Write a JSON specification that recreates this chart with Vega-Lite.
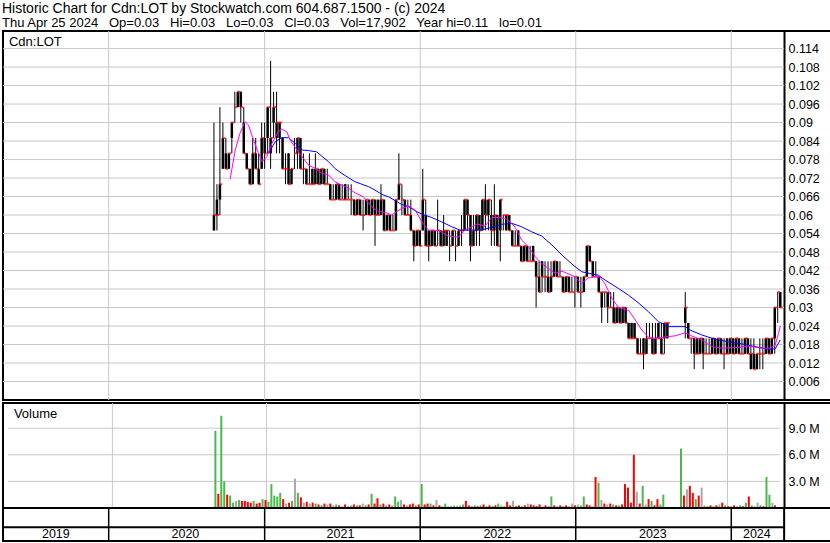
{
  "$schema": "https://vega.github.io/schema/vega-lite/v6.json",
  "background": "white",
  "padding": {"left": 1, "top": 1, "right": 0, "bottom": 0},
  "title": {
    "text": "Historic Chart for Cdn:LOT by Stockwatch.com 604.687.1500 - (c) 2024",
    "subtitle": "Thu Apr 25 2024\u00a0\u00a0 Op=0.03\u00a0\u00a0 Hi=0.03\u00a0\u00a0 Lo=0.03\u00a0\u00a0 Cl=0.03\u00a0\u00a0 Vol=17,902\u00a0\u00a0 Year hi=0.11\u00a0\u00a0 lo=0.01",
    "anchor": "start",
    "frame": "bounds",
    "font": "Liberation Sans",
    "fontSize": 14,
    "fontWeight": "normal",
    "color": "#000000",
    "subtitleFont": "Liberation Sans",
    "subtitleFontSize": 13,
    "subtitleColor": "#000000",
    "subtitlePadding": 1,
    "offset": 0,
    "dx": 1
  },
  "config": {
    "view": {"stroke": "#000000", "strokeWidth": 2},
    "font": "Liberation Sans",
    "axis": {"labelOverlap": false, "labelBound": false}
  },
  "datasets": {
    "weekly": [
      {"date":"2020-09-04","open":0.055,"high":0.09,"low":0.055,"close":0.06,"volume":8.7,"move":"up"},
      {"date":"2020-09-11","open":0.065,"high":0.07,"low":0.055,"close":0.06,"volume":1.6,"move":"down"},
      {"date":"2020-09-18","open":0.065,"high":0.095,"low":0.06,"close":0.07,"volume":10.4,"move":"up"},
      {"date":"2020-09-25","open":0.075,"high":0.09,"low":0.075,"close":0.085,"volume":3.0,"move":"up"},
      {"date":"2020-10-02","open":0.08,"high":0.085,"low":0.075,"close":0.075,"volume":1.5,"move":"down"},
      {"date":"2020-10-09","open":0.075,"high":0.08,"low":0.075,"close":0.08,"volume":1.4,"move":"up"},
      {"date":"2020-10-16","open":0.085,"high":0.09,"low":0.08,"close":0.09,"volume":0.6,"move":"up"},
      {"date":"2020-10-23","open":0.095,"high":0.1,"low":0.09,"close":0.095,"volume":0.8,"move":"flat"},
      {"date":"2020-10-30","open":0.095,"high":0.1,"low":0.095,"close":0.1,"volume":0.9,"move":"up"},
      {"date":"2020-11-06","open":0.1,"high":0.1,"low":0.09,"close":0.095,"volume":0.8,"move":"down"},
      {"date":"2020-11-13","open":0.09,"high":0.095,"low":0.08,"close":0.08,"volume":0.8,"move":"down"},
      {"date":"2020-11-20","open":0.08,"high":0.08,"low":0.075,"close":0.075,"volume":0.7,"move":"down"},
      {"date":"2020-11-27","open":0.075,"high":0.075,"low":0.07,"close":0.07,"volume":0.6,"move":"down"},
      {"date":"2020-12-04","open":0.07,"high":0.085,"low":0.07,"close":0.08,"volume":0.8,"move":"up"},
      {"date":"2020-12-11","open":0.08,"high":0.085,"low":0.075,"close":0.075,"volume":0.5,"move":"down"},
      {"date":"2020-12-18","open":0.075,"high":0.08,"low":0.07,"close":0.07,"volume":0.6,"move":"down"},
      {"date":"2020-12-25","open":0.075,"high":0.09,"low":0.075,"close":0.085,"volume":1.0,"move":"up"},
      {"date":"2021-01-01","open":0.085,"high":0.09,"low":0.075,"close":0.08,"volume":0.9,"move":"down"},
      {"date":"2021-01-08","open":0.085,"high":0.095,"low":0.08,"close":0.095,"volume":0.7,"move":"up"},
      {"date":"2021-01-15","open":0.08,"high":0.11,"low":0.075,"close":0.085,"volume":2.7,"move":"up"},
      {"date":"2021-01-22","open":0.09,"high":0.1,"low":0.085,"close":0.095,"volume":1.4,"move":"up"},
      {"date":"2021-01-29","open":0.085,"high":0.1,"low":0.08,"close":0.09,"volume":1.3,"move":"up"},
      {"date":"2021-02-05","open":0.085,"high":0.09,"low":0.08,"close":0.09,"volume":1.7,"move":"up"},
      {"date":"2021-02-12","open":0.085,"high":0.085,"low":0.075,"close":0.075,"volume":1.0,"move":"down"},
      {"date":"2021-02-19","open":0.075,"high":0.08,"low":0.07,"close":0.075,"volume":0.5,"move":"flat"},
      {"date":"2021-02-26","open":0.08,"high":0.08,"low":0.07,"close":0.07,"volume":0.6,"move":"down"},
      {"date":"2021-03-05","open":0.07,"high":0.075,"low":0.07,"close":0.075,"volume":0.8,"move":"up"},
      {"date":"2021-03-12","open":0.08,"high":0.085,"low":0.075,"close":0.08,"volume":3.3,"move":"flat"},
      {"date":"2021-03-19","open":0.08,"high":0.085,"low":0.075,"close":0.085,"volume":1.7,"move":"up"},
      {"date":"2021-03-26","open":0.085,"high":0.085,"low":0.075,"close":0.075,"volume":1.2,"move":"down"},
      {"date":"2021-04-02","open":0.075,"high":0.08,"low":0.07,"close":0.075,"volume":0.6,"move":"flat"},
      {"date":"2021-04-09","open":0.075,"high":0.075,"low":0.07,"close":0.07,"volume":0.7,"move":"down"},
      {"date":"2021-04-16","open":0.07,"high":0.08,"low":0.07,"close":0.07,"volume":0.5,"move":"flat"},
      {"date":"2021-04-23","open":0.075,"high":0.075,"low":0.07,"close":0.07,"volume":0.6,"move":"down"},
      {"date":"2021-04-30","open":0.07,"high":0.08,"low":0.07,"close":0.075,"volume":0.5,"move":"up"},
      {"date":"2021-05-07","open":0.075,"high":0.075,"low":0.07,"close":0.07,"volume":0.4,"move":"down"},
      {"date":"2021-05-14","open":0.07,"high":0.075,"low":0.07,"close":0.075,"volume":0.3,"move":"up"},
      {"date":"2021-05-21","open":0.075,"high":0.075,"low":0.07,"close":0.07,"volume":0.5,"move":"down"},
      {"date":"2021-05-28","open":0.07,"high":0.075,"low":0.07,"close":0.07,"volume":0.4,"move":"flat"},
      {"date":"2021-06-04","open":0.07,"high":0.07,"low":0.065,"close":0.065,"volume":0.5,"move":"down"},
      {"date":"2021-06-11","open":0.065,"high":0.07,"low":0.065,"close":0.065,"volume":0.3,"move":"flat"},
      {"date":"2021-06-18","open":0.065,"high":0.07,"low":0.065,"close":0.07,"volume":0.4,"move":"up"},
      {"date":"2021-06-25","open":0.07,"high":0.07,"low":0.065,"close":0.065,"volume":0.3,"move":"down"},
      {"date":"2021-07-02","open":0.065,"high":0.07,"low":0.065,"close":0.065,"volume":0.2,"move":"flat"},
      {"date":"2021-07-09","open":0.07,"high":0.07,"low":0.065,"close":0.065,"volume":0.4,"move":"down"},
      {"date":"2021-07-16","open":0.065,"high":0.07,"low":0.065,"close":0.065,"volume":0.2,"move":"flat"},
      {"date":"2021-07-23","open":0.065,"high":0.07,"low":0.06,"close":0.065,"volume":0.3,"move":"flat"},
      {"date":"2021-07-30","open":0.065,"high":0.065,"low":0.06,"close":0.06,"volume":0.4,"move":"down"},
      {"date":"2021-08-06","open":0.06,"high":0.065,"low":0.06,"close":0.065,"volume":0.3,"move":"up"},
      {"date":"2021-08-13","open":0.065,"high":0.065,"low":0.06,"close":0.06,"volume":0.3,"move":"down"},
      {"date":"2021-08-20","open":0.06,"high":0.065,"low":0.055,"close":0.06,"volume":0.5,"move":"flat"},
      {"date":"2021-08-27","open":0.06,"high":0.065,"low":0.06,"close":0.065,"volume":0.3,"move":"up"},
      {"date":"2021-09-03","open":0.065,"high":0.065,"low":0.06,"close":0.06,"volume":0.4,"move":"down"},
      {"date":"2021-09-10","open":0.06,"high":0.065,"low":0.06,"close":0.065,"volume":1.6,"move":"up"},
      {"date":"2021-09-17","open":0.065,"high":0.065,"low":0.05,"close":0.06,"volume":0.5,"move":"down"},
      {"date":"2021-09-24","open":0.065,"high":0.065,"low":0.06,"close":0.06,"volume":1.1,"move":"down"},
      {"date":"2021-10-01","open":0.06,"high":0.07,"low":0.06,"close":0.065,"volume":0.4,"move":"up"},
      {"date":"2021-10-08","open":0.065,"high":0.065,"low":0.055,"close":0.055,"volume":0.5,"move":"down"},
      {"date":"2021-10-15","open":0.055,"high":0.06,"low":0.055,"close":0.06,"volume":0.3,"move":"up"},
      {"date":"2021-10-22","open":0.06,"high":0.06,"low":0.055,"close":0.055,"volume":0.4,"move":"down"},
      {"date":"2021-10-29","open":0.055,"high":0.06,"low":0.055,"close":0.055,"volume":0.3,"move":"flat"},
      {"date":"2021-11-05","open":0.055,"high":0.065,"low":0.055,"close":0.065,"volume":1.3,"move":"up"},
      {"date":"2021-11-12","open":0.065,"high":0.08,"low":0.065,"close":0.07,"volume":0.7,"move":"up"},
      {"date":"2021-11-19","open":0.065,"high":0.07,"low":0.06,"close":0.065,"volume":0.9,"move":"flat"},
      {"date":"2021-11-26","open":0.065,"high":0.065,"low":0.06,"close":0.06,"volume":0.4,"move":"down"},
      {"date":"2021-12-03","open":0.06,"high":0.065,"low":0.06,"close":0.06,"volume":0.3,"move":"flat"},
      {"date":"2021-12-10","open":0.06,"high":0.065,"low":0.055,"close":0.055,"volume":0.4,"move":"down"},
      {"date":"2021-12-17","open":0.055,"high":0.055,"low":0.045,"close":0.05,"volume":0.5,"move":"down"},
      {"date":"2021-12-24","open":0.05,"high":0.055,"low":0.05,"close":0.055,"volume":0.3,"move":"up"},
      {"date":"2021-12-31","open":0.055,"high":0.055,"low":0.05,"close":0.05,"volume":0.4,"move":"down"},
      {"date":"2022-01-07","open":0.055,"high":0.075,"low":0.055,"close":0.065,"volume":2.7,"move":"up"},
      {"date":"2022-01-14","open":0.06,"high":0.065,"low":0.05,"close":0.05,"volume":0.4,"move":"down"},
      {"date":"2022-01-21","open":0.055,"high":0.055,"low":0.045,"close":0.05,"volume":0.5,"move":"down"},
      {"date":"2022-01-28","open":0.05,"high":0.055,"low":0.05,"close":0.055,"volume":0.5,"move":"up"},
      {"date":"2022-02-04","open":0.055,"high":0.055,"low":0.05,"close":0.05,"volume":0.3,"move":"down"},
      {"date":"2022-02-11","open":0.055,"high":0.065,"low":0.05,"close":0.055,"volume":0.9,"move":"flat"},
      {"date":"2022-02-18","open":0.055,"high":0.055,"low":0.05,"close":0.05,"volume":0.3,"move":"down"},
      {"date":"2022-02-25","open":0.05,"high":0.06,"low":0.05,"close":0.055,"volume":0.2,"move":"up"},
      {"date":"2022-03-04","open":0.05,"high":0.055,"low":0.05,"close":0.055,"volume":0.5,"move":"up"},
      {"date":"2022-03-11","open":0.05,"high":0.055,"low":0.045,"close":0.05,"volume":0.2,"move":"flat"},
      {"date":"2022-03-18","open":0.05,"high":0.055,"low":0.05,"close":0.055,"volume":0.2,"move":"up"},
      {"date":"2022-03-25","open":0.05,"high":0.055,"low":0.045,"close":0.05,"volume":0.3,"move":"flat"},
      {"date":"2022-04-01","open":0.05,"high":0.055,"low":0.05,"close":0.055,"volume":0.2,"move":"up"},
      {"date":"2022-04-08","open":0.055,"high":0.06,"low":0.05,"close":0.055,"volume":0.3,"move":"flat"},
      {"date":"2022-04-15","open":0.055,"high":0.065,"low":0.055,"close":0.065,"volume":0.4,"move":"up"},
      {"date":"2022-04-22","open":0.065,"high":0.065,"low":0.055,"close":0.06,"volume":0.8,"move":"down"},
      {"date":"2022-04-29","open":0.06,"high":0.06,"low":0.045,"close":0.05,"volume":0.3,"move":"down"},
      {"date":"2022-05-06","open":0.05,"high":0.06,"low":0.05,"close":0.055,"volume":0.2,"move":"up"},
      {"date":"2022-05-13","open":0.055,"high":0.06,"low":0.05,"close":0.06,"volume":0.3,"move":"up"},
      {"date":"2022-05-20","open":0.06,"high":0.06,"low":0.05,"close":0.055,"volume":0.2,"move":"down"},
      {"date":"2022-05-27","open":0.055,"high":0.065,"low":0.055,"close":0.065,"volume":0.3,"move":"up"},
      {"date":"2022-06-03","open":0.065,"high":0.07,"low":0.055,"close":0.06,"volume":0.4,"move":"down"},
      {"date":"2022-06-10","open":0.06,"high":0.065,"low":0.055,"close":0.065,"volume":0.2,"move":"up"},
      {"date":"2022-06-17","open":0.06,"high":0.065,"low":0.05,"close":0.055,"volume":0.3,"move":"down"},
      {"date":"2022-06-24","open":0.055,"high":0.07,"low":0.05,"close":0.06,"volume":0.2,"move":"up"},
      {"date":"2022-07-01","open":0.06,"high":0.06,"low":0.05,"close":0.05,"volume":0.3,"move":"down"},
      {"date":"2022-07-08","open":0.055,"high":0.065,"low":0.045,"close":0.065,"volume":0.5,"move":"up"},
      {"date":"2022-07-15","open":0.06,"high":0.06,"low":0.055,"close":0.06,"volume":0.3,"move":"flat"},
      {"date":"2022-07-22","open":0.055,"high":0.06,"low":0.055,"close":0.06,"volume":0.2,"move":"up"},
      {"date":"2022-07-29","open":0.06,"high":0.06,"low":0.055,"close":0.055,"volume":0.7,"move":"down"},
      {"date":"2022-08-05","open":0.055,"high":0.055,"low":0.05,"close":0.05,"volume":0.3,"move":"down"},
      {"date":"2022-08-12","open":0.05,"high":0.055,"low":0.05,"close":0.05,"volume":0.8,"move":"flat"},
      {"date":"2022-08-19","open":0.055,"high":0.055,"low":0.05,"close":0.05,"volume":0.2,"move":"down"},
      {"date":"2022-08-26","open":0.05,"high":0.05,"low":0.045,"close":0.045,"volume":0.3,"move":"down"},
      {"date":"2022-09-02","open":0.045,"high":0.05,"low":0.045,"close":0.05,"volume":0.2,"move":"up"},
      {"date":"2022-09-09","open":0.05,"high":0.05,"low":0.045,"close":0.045,"volume":0.3,"move":"down"},
      {"date":"2022-09-16","open":0.045,"high":0.05,"low":0.045,"close":0.045,"volume":0.5,"move":"flat"},
      {"date":"2022-09-23","open":0.05,"high":0.05,"low":0.045,"close":0.045,"volume":0.4,"move":"down"},
      {"date":"2022-09-30","open":0.045,"high":0.045,"low":0.03,"close":0.04,"volume":0.3,"move":"down"},
      {"date":"2022-10-07","open":0.04,"high":0.045,"low":0.035,"close":0.035,"volume":0.2,"move":"down"},
      {"date":"2022-10-14","open":0.045,"high":0.045,"low":0.035,"close":0.04,"volume":0.4,"move":"down"},
      {"date":"2022-10-21","open":0.04,"high":0.045,"low":0.035,"close":0.04,"volume":0.2,"move":"flat"},
      {"date":"2022-10-28","open":0.04,"high":0.045,"low":0.035,"close":0.035,"volume":0.3,"move":"down"},
      {"date":"2022-11-04","open":0.035,"high":0.045,"low":0.035,"close":0.04,"volume":0.2,"move":"up"},
      {"date":"2022-11-11","open":0.04,"high":0.045,"low":0.04,"close":0.045,"volume":1.3,"move":"up"},
      {"date":"2022-11-18","open":0.045,"high":0.045,"low":0.04,"close":0.04,"volume":0.3,"move":"down"},
      {"date":"2022-11-25","open":0.04,"high":0.045,"low":0.04,"close":0.04,"volume":0.2,"move":"flat"},
      {"date":"2022-12-02","open":0.04,"high":0.04,"low":0.035,"close":0.035,"volume":0.3,"move":"down"},
      {"date":"2022-12-09","open":0.035,"high":0.04,"low":0.035,"close":0.04,"volume":0.2,"move":"up"},
      {"date":"2022-12-16","open":0.04,"high":0.04,"low":0.035,"close":0.035,"volume":0.3,"move":"down"},
      {"date":"2022-12-23","open":0.035,"high":0.04,"low":0.035,"close":0.035,"volume":0.2,"move":"flat"},
      {"date":"2022-12-30","open":0.04,"high":0.04,"low":0.03,"close":0.04,"volume":0.5,"move":"flat"},
      {"date":"2023-01-06","open":0.04,"high":0.04,"low":0.035,"close":0.035,"volume":0.3,"move":"down"},
      {"date":"2023-01-13","open":0.035,"high":0.04,"low":0.03,"close":0.035,"volume":0.4,"move":"flat"},
      {"date":"2023-01-20","open":0.035,"high":0.04,"low":0.035,"close":0.04,"volume":0.3,"move":"up"},
      {"date":"2023-01-27","open":0.04,"high":0.05,"low":0.04,"close":0.05,"volume":1.3,"move":"up"},
      {"date":"2023-02-03","open":0.05,"high":0.05,"low":0.045,"close":0.045,"volume":0.4,"move":"down"},
      {"date":"2023-02-10","open":0.045,"high":0.045,"low":0.04,"close":0.04,"volume":0.3,"move":"down"},
      {"date":"2023-02-17","open":0.04,"high":0.045,"low":0.04,"close":0.04,"volume":0.2,"move":"flat"},
      {"date":"2023-02-24","open":0.04,"high":0.04,"low":0.035,"close":0.035,"volume":3.5,"move":"down"},
      {"date":"2023-03-03","open":0.03,"high":0.035,"low":0.025,"close":0.035,"volume":2.85,"move":"up"},
      {"date":"2023-03-10","open":0.035,"high":0.035,"low":0.03,"close":0.035,"volume":0.9,"move":"flat"},
      {"date":"2023-03-17","open":0.035,"high":0.035,"low":0.025,"close":0.03,"volume":0.5,"move":"down"},
      {"date":"2023-03-24","open":0.03,"high":0.035,"low":0.03,"close":0.03,"volume":0.4,"move":"flat"},
      {"date":"2023-03-31","open":0.03,"high":0.035,"low":0.025,"close":0.025,"volume":0.5,"move":"down"},
      {"date":"2023-04-07","open":0.025,"high":0.03,"low":0.025,"close":0.03,"volume":0.4,"move":"up"},
      {"date":"2023-04-14","open":0.03,"high":0.03,"low":0.025,"close":0.025,"volume":0.3,"move":"down"},
      {"date":"2023-04-21","open":0.025,"high":0.03,"low":0.025,"close":0.03,"volume":0.3,"move":"up"},
      {"date":"2023-04-28","open":0.03,"high":0.03,"low":0.025,"close":0.025,"volume":0.4,"move":"down"},
      {"date":"2023-05-05","open":0.025,"high":0.025,"low":0.02,"close":0.02,"volume":2.7,"move":"down"},
      {"date":"2023-05-12","open":0.025,"high":0.025,"low":0.02,"close":0.02,"volume":2.3,"move":"down"},
      {"date":"2023-05-19","open":0.025,"high":0.025,"low":0.02,"close":0.02,"volume":0.6,"move":"down"},
      {"date":"2023-05-26","open":0.02,"high":0.02,"low":0.015,"close":0.015,"volume":6.0,"move":"down"},
      {"date":"2023-06-02","open":0.015,"high":0.02,"low":0.015,"close":0.015,"volume":1.85,"move":"flat"},
      {"date":"2023-06-09","open":0.02,"high":0.02,"low":0.01,"close":0.015,"volume":0.5,"move":"down"},
      {"date":"2023-06-16","open":0.015,"high":0.025,"low":0.015,"close":0.02,"volume":2.5,"move":"up"},
      {"date":"2023-06-23","open":0.02,"high":0.025,"low":0.02,"close":0.02,"volume":0.4,"move":"flat"},
      {"date":"2023-06-30","open":0.02,"high":0.025,"low":0.015,"close":0.015,"volume":1.0,"move":"down"},
      {"date":"2023-07-07","open":0.015,"high":0.025,"low":0.015,"close":0.02,"volume":0.8,"move":"up"},
      {"date":"2023-07-14","open":0.025,"high":0.025,"low":0.02,"close":0.02,"volume":0.3,"move":"down"},
      {"date":"2023-07-21","open":0.02,"high":0.025,"low":0.015,"close":0.015,"volume":1.0,"move":"down"},
      {"date":"2023-07-28","open":0.02,"high":0.025,"low":0.015,"close":0.025,"volume":0.4,"move":"up"},
      {"date":"2023-08-04","open":0.02,"high":0.025,"low":0.02,"close":0.025,"volume":1.5,"move":"up"},
      {"date":"2023-09-15","open":0.025,"high":0.035,"low":0.02,"close":0.03,"volume":6.7,"move":"up"},
      {"date":"2023-09-22","open":0.025,"high":0.025,"low":0.02,"close":0.02,"volume":1.4,"move":"down"},
      {"date":"2023-09-29","open":0.02,"high":0.02,"low":0.015,"close":0.02,"volume":2.1,"move":"flat"},
      {"date":"2023-10-06","open":0.02,"high":0.02,"low":0.01,"close":0.015,"volume":2.5,"move":"down"},
      {"date":"2023-10-13","open":0.02,"high":0.02,"low":0.015,"close":0.015,"volume":1.7,"move":"down"},
      {"date":"2023-10-20","open":0.015,"high":0.02,"low":0.015,"close":0.02,"volume":1.0,"move":"up"},
      {"date":"2023-10-27","open":0.02,"high":0.02,"low":0.01,"close":0.015,"volume":1.4,"move":"down"},
      {"date":"2023-11-03","open":0.015,"high":0.02,"low":0.015,"close":0.015,"volume":2.3,"move":"flat"},
      {"date":"2023-11-10","open":0.015,"high":0.02,"low":0.015,"close":0.015,"volume":0.3,"move":"flat"},
      {"date":"2023-11-17","open":0.015,"high":0.02,"low":0.015,"close":0.02,"volume":0.2,"move":"up"},
      {"date":"2023-11-24","open":0.02,"high":0.02,"low":0.015,"close":0.015,"volume":0.3,"move":"down"},
      {"date":"2023-12-01","open":0.015,"high":0.02,"low":0.015,"close":0.02,"volume":0.2,"move":"up"},
      {"date":"2023-12-08","open":0.02,"high":0.02,"low":0.015,"close":0.015,"volume":0.3,"move":"down"},
      {"date":"2023-12-15","open":0.015,"high":0.02,"low":0.01,"close":0.015,"volume":0.4,"move":"flat"},
      {"date":"2023-12-22","open":0.02,"high":0.02,"low":0.015,"close":0.015,"volume":0.6,"move":"down"},
      {"date":"2023-12-29","open":0.015,"high":0.02,"low":0.015,"close":0.02,"volume":0.3,"move":"up"},
      {"date":"2024-01-05","open":0.02,"high":0.02,"low":0.015,"close":0.015,"volume":0.2,"move":"down"},
      {"date":"2024-01-12","open":0.015,"high":0.02,"low":0.015,"close":0.02,"volume":0.2,"move":"up"},
      {"date":"2024-01-19","open":0.02,"high":0.02,"low":0.015,"close":0.015,"volume":0.3,"move":"down"},
      {"date":"2024-01-26","open":0.015,"high":0.02,"low":0.015,"close":0.015,"volume":0.2,"move":"flat"},
      {"date":"2024-02-02","open":0.015,"high":0.02,"low":0.015,"close":0.02,"volume":0.3,"move":"up"},
      {"date":"2024-02-09","open":0.02,"high":0.02,"low":0.015,"close":0.015,"volume":0.2,"move":"down"},
      {"date":"2024-02-16","open":0.01,"high":0.02,"low":0.01,"close":0.015,"volume":0.6,"move":"up"},
      {"date":"2024-02-23","open":0.015,"high":0.02,"low":0.01,"close":0.01,"volume":1.3,"move":"down"},
      {"date":"2024-03-01","open":0.01,"high":0.015,"low":0.01,"close":0.015,"volume":0.3,"move":"up"},
      {"date":"2024-03-08","open":0.015,"high":0.02,"low":0.01,"close":0.015,"volume":0.2,"move":"flat"},
      {"date":"2024-03-15","open":0.015,"high":0.02,"low":0.01,"close":0.015,"volume":0.6,"move":"flat"},
      {"date":"2024-03-22","open":0.015,"high":0.02,"low":0.015,"close":0.02,"volume":0.3,"move":"up"},
      {"date":"2024-03-29","open":0.02,"high":0.02,"low":0.015,"close":0.015,"volume":0.2,"move":"down"},
      {"date":"2024-04-05","open":0.015,"high":0.02,"low":0.015,"close":0.02,"volume":3.5,"move":"up"},
      {"date":"2024-04-12","open":0.02,"high":0.03,"low":0.015,"close":0.03,"volume":1.5,"move":"up"},
      {"date":"2024-04-19","open":0.035,"high":0.035,"low":0.025,"close":0.035,"volume":0.6,"move":"flat"},
      {"date":"2024-04-25","open":0.035,"high":0.035,"low":0.03,"close":0.03,"volume":0.3,"move":"down"}
    ],
    "maFast": [
      {"date":"2020-10-12","ma":0.0716},{"date":"2020-10-24","ma":0.0811},{"date":"2020-11-04","ma":0.0865},
      {"date":"2020-11-16","ma":0.0903},{"date":"2020-11-24","ma":0.0892},{"date":"2020-12-06","ma":0.0843},
      {"date":"2020-12-18","ma":0.08},{"date":"2020-12-26","ma":0.0773},{"date":"2021-01-06","ma":0.0789},
      {"date":"2021-01-18","ma":0.0832},{"date":"2021-02-02","ma":0.087},{"date":"2021-02-10","ma":0.0879},
      {"date":"2021-02-22","ma":0.087},{"date":"2021-03-02","ma":0.0843},{"date":"2021-03-18","ma":0.0811},
      {"date":"2021-03-30","ma":0.0789},{"date":"2021-04-14","ma":0.0762},{"date":"2021-04-30","ma":0.0751},
      {"date":"2021-05-15","ma":0.0735},{"date":"2021-05-31","ma":0.073},{"date":"2021-06-15","ma":0.0708},
      {"date":"2021-07-01","ma":0.0697},{"date":"2021-07-17","ma":0.0687},{"date":"2021-08-01","ma":0.0672},
      {"date":"2021-08-21","ma":0.0659},{"date":"2021-09-09","ma":0.0627},{"date":"2021-09-25","ma":0.0611},
      {"date":"2021-10-11","ma":0.0609},{"date":"2021-10-26","ma":0.06},{"date":"2021-11-07","ma":0.0611},
      {"date":"2021-11-19","ma":0.0622},{"date":"2021-12-05","ma":0.0629},{"date":"2021-12-20","ma":0.0616},
      {"date":"2022-01-05","ma":0.0578},{"date":"2022-01-20","ma":0.0551},{"date":"2022-02-13","ma":0.055},
      {"date":"2022-03-08","ma":0.0532},{"date":"2022-04-01","ma":0.0528},{"date":"2022-04-16","ma":0.0551},
      {"date":"2022-05-02","ma":0.0562},{"date":"2022-05-14","ma":0.0571},{"date":"2022-06-02","ma":0.0564},
      {"date":"2022-06-18","ma":0.0592},{"date":"2022-07-04","ma":0.0592},{"date":"2022-07-20","ma":0.0589},
      {"date":"2022-07-31","ma":0.0578},{"date":"2022-08-12","ma":0.056},{"date":"2022-08-27","ma":0.0519},
      {"date":"2022-09-12","ma":0.0497},{"date":"2022-09-28","ma":0.0465},{"date":"2022-10-13","ma":0.0443},
      {"date":"2022-10-29","ma":0.0427},{"date":"2022-11-14","ma":0.0411},{"date":"2022-11-30","ma":0.0418},
      {"date":"2022-12-30","ma":0.04},{"date":"2023-01-15","ma":0.0378},{"date":"2023-01-29","ma":0.0395},
      {"date":"2023-02-15","ma":0.04},{"date":"2023-02-26","ma":0.04},{"date":"2023-03-11","ma":0.0376},
      {"date":"2023-03-27","ma":0.033},{"date":"2023-04-11","ma":0.03},{"date":"2023-04-24","ma":0.0295},
      {"date":"2023-05-06","ma":0.029},{"date":"2023-05-21","ma":0.0259},{"date":"2023-06-05","ma":0.0227},
      {"date":"2023-06-21","ma":0.0203},{"date":"2023-07-06","ma":0.02},{"date":"2023-07-30","ma":0.0205},
      {"date":"2023-08-22","ma":0.0208},{"date":"2023-09-15","ma":0.0218},{"date":"2023-09-30","ma":0.0208},
      {"date":"2023-10-24","ma":0.0195},{"date":"2023-11-16","ma":0.0173},{"date":"2023-12-10","ma":0.0168},
      {"date":"2024-01-10","ma":0.017},{"date":"2024-02-10","ma":0.0175},{"date":"2024-03-13","ma":0.0168},
      {"date":"2024-04-01","ma":0.0168},{"date":"2024-04-13","ma":0.0178},{"date":"2024-04-21","ma":0.0216},
      {"date":"2024-04-25","ma":0.024}
    ],
    "maSlow": [
      {"date":"2021-01-10","ma":0.08},{"date":"2021-01-26","ma":0.0838},{"date":"2021-02-10","ma":0.0851},
      {"date":"2021-02-26","ma":0.0851},{"date":"2021-03-14","ma":0.0832},{"date":"2021-03-30","ma":0.0811},
      {"date":"2021-04-14","ma":0.0809},{"date":"2021-05-03","ma":0.0805},{"date":"2021-05-15","ma":0.0791},
      {"date":"2021-05-31","ma":0.0773},{"date":"2021-06-15","ma":0.0751},{"date":"2021-07-01","ma":0.0735},
      {"date":"2021-07-17","ma":0.0721},{"date":"2021-08-01","ma":0.0708},{"date":"2021-08-17","ma":0.07},
      {"date":"2021-09-02","ma":0.0692},{"date":"2021-09-17","ma":0.0681},{"date":"2021-10-03","ma":0.0667},
      {"date":"2021-10-19","ma":0.0659},{"date":"2021-11-03","ma":0.0647},{"date":"2021-11-19","ma":0.0634},
      {"date":"2021-12-05","ma":0.0627},{"date":"2021-12-20","ma":0.0614},{"date":"2022-01-05","ma":0.0603},
      {"date":"2022-01-28","ma":0.0592},{"date":"2022-02-20","ma":0.0578},{"date":"2022-03-16","ma":0.0562},
      {"date":"2022-04-05","ma":0.0551},{"date":"2022-05-02","ma":0.0551},{"date":"2022-05-26","ma":0.0552},
      {"date":"2022-06-18","ma":0.056},{"date":"2022-07-11","ma":0.057},{"date":"2022-08-04","ma":0.0573},
      {"date":"2022-08-27","ma":0.0562},{"date":"2022-09-19","ma":0.0546},{"date":"2022-10-13","ma":0.0532},
      {"date":"2022-11-06","ma":0.0503},{"date":"2022-11-30","ma":0.047},{"date":"2022-12-23","ma":0.0441},
      {"date":"2023-01-15","ma":0.0416},{"date":"2023-02-08","ma":0.0409},{"date":"2023-02-23","ma":0.0405},
      {"date":"2023-03-11","ma":0.0389},{"date":"2023-04-11","ma":0.0362},{"date":"2023-05-05","ma":0.034},
      {"date":"2023-05-29","ma":0.0314},{"date":"2023-06-21","ma":0.0286},{"date":"2023-07-14","ma":0.0254},
      {"date":"2023-08-07","ma":0.0238},{"date":"2023-09-15","ma":0.0238},{"date":"2023-09-26","ma":0.0227},
      {"date":"2023-10-24","ma":0.0211},{"date":"2023-11-24","ma":0.0197},{"date":"2023-12-25","ma":0.0189},
      {"date":"2024-01-26","ma":0.0182},{"date":"2024-02-26","ma":0.0173},{"date":"2024-03-28","ma":0.0165},
      {"date":"2024-04-13","ma":0.0166},{"date":"2024-04-25","ma":0.0195}
    ],
    "priceLevels": [
      {"level":0.006},{"level":0.012},{"level":0.018},{"level":0.024},{"level":0.03},{"level":0.036},
      {"level":0.042},{"level":0.048},{"level":0.054},{"level":0.06},{"level":0.066},{"level":0.072},
      {"level":0.078},{"level":0.084},{"level":0.09},{"level":0.096},{"level":0.102},{"level":0.108},{"level":0.114}
    ],
    "volumeLevels": [{"level":3},{"level":6},{"level":9}],
    "years": [
      {"year":"2019","start":"2019-04-28","mid":"2019-08-30"},
      {"year":"2020","start":"2020-01-01","mid":"2020-06-29"},
      {"year":"2021","start":"2021-01-01","mid":"2021-06-28"},
      {"year":"2022","start":"2022-01-01","mid":"2022-07-01"},
      {"year":"2023","start":"2023-01-01","mid":"2023-07-01"},
      {"year":"2024","start":"2024-01-01","mid":"2024-03-01"}
    ],
    "panelLabels": [
      {"panel":"price","label":"Cdn:LOT","date":"2019-05-12","price":0.1162},
      {"panel":"volume","label":"Volume","date":"2019-05-12","volume":10.62}
    ],
    "bandFrame": [
      {"start":"2019-04-28","axisEnd":"2024-05-04","split":0.415}
    ]
  },
  "bounds": "flush",
  "spacing": 3,
  "vconcat": [
    {
      "width": 828,
      "height": 369,
      "layer": [
        {
          "data": {"name": "priceLevels"},
          "mark": {"type": "rule", "color": "#c8c8c8", "strokeWidth": 1},
          "encoding": {
            "x": {"datum": {"year": 2019, "month": 4, "date": 28, "utc": true}, "type": "temporal",
                  "scale": {"domain": [{"year": 2019, "month": 4, "date": 28, "utc": true}, {"year": 2024, "month": 8, "date": 22, "utc": true}]},
                  "axis": null},
            "x2": {"datum": {"year": 2024, "month": 5, "date": 4, "utc": true}},
            "y": {"field": "level", "type": "quantitative", "title": null,
                  "scale": {"domain": [0, 0.1197], "nice": false, "zero": false},
                  "axis": {"orient": "right", "offset": -47, "values": [0.006,0.012,0.018,0.024,0.03,0.036,0.042,0.048,0.054,0.06,0.066,0.072,0.078,0.084,0.09,0.096,0.102,0.108,0.114],
                           "tickCount": 40, "format": ".3~f", "grid": false, "ticks": false, "domainColor": "#000000", "domainWidth": 2,
                           "labelFontSize": 12.5, "labelColor": "#000000", "labelPadding": 4, "labelFlush": false, "labelOverlap": false}}
          }
        },
        {
          "data": {"name": "years"},
          "transform": [{"filter": "datum.year != '2019'"}],
          "mark": {"type": "rule", "color": "#c8c8c8", "strokeWidth": 1},
          "encoding": {"x": {"field": "start", "type": "temporal"}}
        },
        {
          "data": {"name": "weekly"},
          "mark": {"type": "rule", "color": "#000000", "strokeWidth": 1},
          "encoding": {
            "x": {"field": "date", "type": "temporal"},
            "y": {"field": "low", "type": "quantitative", "title": null},
            "y2": {"field": "high"}
          }
        },
        {
          "data": {"name": "weekly"},
          "mark": {"type": "rule", "color": "#000000", "strokeWidth": 2.5},
          "encoding": {
            "x": {"field": "date", "type": "temporal"},
            "y": {"field": "open", "type": "quantitative", "title": null},
            "y2": {"field": "close"}
          }
        },
        {
          "data": {"name": "weekly"},
          "mark": {"type": "tick", "orient": "horizontal", "color": "#ff0000", "size": 3, "thickness": 2, "xOffset": 1},
          "encoding": {
            "x": {"field": "date", "type": "temporal"},
            "y": {"field": "close", "type": "quantitative", "title": null}
          }
        },
        {
          "data": {"name": "maSlow"},
          "mark": {"type": "line", "color": "#0000ff", "strokeWidth": 1},
          "encoding": {
            "x": {"field": "date", "type": "temporal"},
            "y": {"field": "ma", "type": "quantitative", "title": null}
          }
        },
        {
          "data": {"name": "maFast"},
          "mark": {"type": "line", "color": "#ff00ff", "strokeWidth": 1},
          "encoding": {
            "x": {"field": "date", "type": "temporal"},
            "y": {"field": "ma", "type": "quantitative", "title": null}
          }
        },
        {
          "data": {"name": "panelLabels"},
          "transform": [{"filter": "datum.panel == 'price'"}],
          "mark": {"type": "text", "align": "left", "baseline": "middle", "fontSize": 13, "color": "#000000"},
          "encoding": {
            "x": {"field": "date", "type": "temporal"},
            "y": {"field": "price", "type": "quantitative", "title": null},
            "text": {"field": "label", "type": "nominal"}
          }
        }
      ]
    },
    {
      "bounds": "flush",
      "spacing": 0,
      "vconcat": [
        {
          "width": 828,
          "height": 105,
          "layer": [
            {
              "data": {"name": "volumeLevels"},
              "mark": {"type": "rule", "color": "#c8c8c8", "strokeWidth": 1},
              "encoding": {
                "x": {"datum": {"year": 2019, "month": 4, "date": 28, "utc": true}, "type": "temporal",
                      "scale": {"domain": [{"year": 2019, "month": 4, "date": 28, "utc": true}, {"year": 2024, "month": 8, "date": 22, "utc": true}]},
                      "axis": null},
                "x2": {"datum": {"year": 2024, "month": 5, "date": 4, "utc": true}},
                "y": {"field": "level", "type": "quantitative", "title": null,
                      "scale": {"domain": [0, 11.84], "nice": false},
                      "axis": {"orient": "right", "offset": -47, "values": [3, 6, 9], "tickCount": 10,
                               "labelExpr": "format(datum.value, '.1f') + ' M'", "grid": false, "ticks": false,
                               "domainColor": "#000000", "domainWidth": 2, "labelFontSize": 12.5, "labelColor": "#000000",
                               "labelPadding": 4, "labelFlush": false, "labelOverlap": false}}
              }
            },
            {
              "data": {"name": "years"},
              "transform": [{"filter": "datum.year != '2019'"}],
              "mark": {"type": "rule", "color": "#c8c8c8", "strokeWidth": 1},
              "encoding": {"x": {"field": "start", "type": "temporal"}}
            },
            {
              "data": {"name": "weekly"},
              "mark": {"type": "bar", "width": 2, "xOffset": -1},
              "encoding": {
                "x": {"field": "date", "type": "temporal"},
                "y": {"field": "volume", "type": "quantitative", "title": null},
                "color": {"field": "move", "type": "nominal", "legend": null,
                          "scale": {"domain": ["up", "down", "flat"], "range": ["#4cb84c", "#ff0000", "#a8a8a8"]}}
              }
            },
            {
              "data": {"name": "panelLabels"},
              "transform": [{"filter": "datum.panel == 'volume'"}],
              "mark": {"type": "text", "align": "left", "baseline": "middle", "fontSize": 13, "color": "#000000"},
              "encoding": {
                "x": {"field": "date", "type": "temporal"},
                "y": {"field": "volume", "type": "quantitative", "title": null},
                "text": {"field": "label", "type": "nominal"}
              }
            }
          ]
        },
        {
          "width": 828,
          "height": 33,
          "layer": [
            {
              "data": {"name": "years"},
              "transform": [{"filter": "datum.year != '2019'"}],
              "mark": {"type": "rule", "color": "#000000", "strokeWidth": 1.5},
              "encoding": {
                "x": {"field": "start", "type": "temporal",
                      "scale": {"domain": [{"year": 2019, "month": 4, "date": 28, "utc": true}, {"year": 2024, "month": 8, "date": 22, "utc": true}]},
                      "axis": null}
              }
            },
            {
              "data": {"name": "bandFrame"},
              "mark": {"type": "rule", "color": "#000000", "strokeWidth": 2},
              "encoding": {
                "x": {"field": "start", "type": "temporal"},
                "x2": {"field": "axisEnd"},
                "y": {"field": "split", "type": "quantitative", "scale": {"domain": [0, 1]}, "axis": null}
              }
            },
            {
              "data": {"name": "bandFrame"},
              "mark": {"type": "rule", "color": "#000000", "strokeWidth": 2},
              "encoding": {
                "x": {"field": "axisEnd", "type": "temporal"}
              }
            },
            {
              "data": {"name": "years"},
              "mark": {"type": "text", "fontSize": 12.5, "color": "#000000", "baseline": "middle", "align": "center", "dy": 9},
              "encoding": {
                "x": {"field": "mid", "type": "temporal"},
                "text": {"field": "year", "type": "nominal"}
              }
            }
          ]
        }
      ]
    }
  ]
}
